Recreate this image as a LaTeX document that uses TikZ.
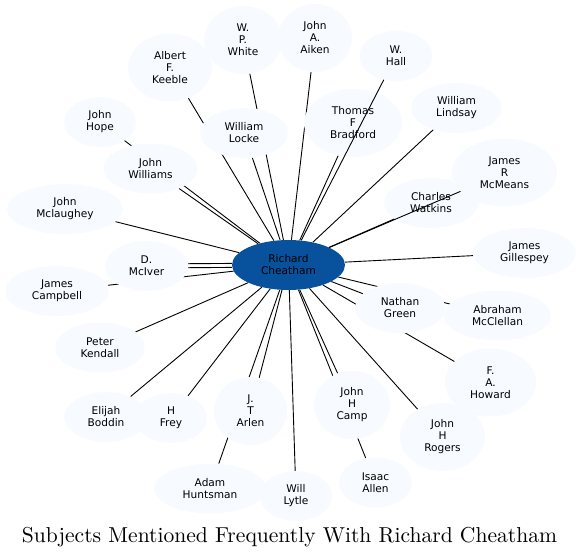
\documentclass[tikz,border=0pt]{standalone}
\usepackage{fontspec}
\newfontfamily\nodefont{DejaVu Sans}
\usetikzlibrary{shapes.geometric}
\pgfdeclarelayer{background}
\pgfsetlayers{background,main}
\definecolor{leaf}{HTML}{F7FBFF}
\definecolor{hub}{HTML}{08519C}
\begin{document}
\begin{tikzpicture}[x=1pt,y=-1pt,
  leafnode/.style={ellipse, fill=leaf, inner sep=0pt, align=center,
    font=\nodefont\fontsize{10.6}{12}\selectfont},
  hubnode/.style={leafnode, fill=hub},
  link/.style={draw=black, line width=0.9pt}]
\useasboundingbox (0,0) rectangle (580,557);
\newcommand\leaf[5]{\node[leafnode, minimum width=#3*2pt, minimum height=#4*2pt] (#1) at #2 {#5};}
\node[hubnode, minimum width=113pt, minimum height=50pt] (c) at (288.5,265) {Richard\\Cheatham};
\leaf{white}{(243,40)}{39}{34}{W.\\P.\\White}
\leaf{aiken}{(315,38)}{37}{34}{John\\A.\\Aiken}
\leaf{keeble}{(170,67.5)}{42}{34}{Albert\\F.\\Keeble}
\leaf{hall}{(396,56)}{36.5}{25}{W.\\Hall}
\leaf{hope}{(100,122)}{36}{25}{John\\Hope}
\leaf{locke}{(244,133)}{44}{25}{William\\Locke}
\leaf{bradford}{(353,123)}{49}{34}{Thomas\\F\\Bradford}
\leaf{lindsay}{(456.5,108)}{45.5}{25}{William\\Lindsay}
\leaf{williams}{(150.5,168.5)}{47}{25}{John\\Williams}
\leaf{mcmeans}{(504.5,172.5)}{52.5}{34}{James\\R\\McMeans}
\leaf{watkins}{(431,203)}{47}{25}{Charles\\Watkins}
\leaf{mclaughey}{(65,209)}{58}{25}{John\\Mclaughey}
\leaf{gillespey}{(524.5,253)}{51.5}{25}{James\\Gillespey}
\leaf{mciver}{(146.5,266)}{41.5}{25}{D.\\McIver}
\leaf{campbell}{(57,291)}{52}{25}{James\\Campbell}
\leaf{green}{(400,308)}{45}{25}{Nathan\\Green}
\leaf{mcclellan}{(497.5,315.5)}{53.5}{25}{Abraham\\McClellan}
\leaf{kendall}{(100,347.5)}{45}{25}{Peter\\Kendall}
\leaf{howard}{(490.5,382.5)}{45.5}{34}{F.\\A.\\Howard}
\leaf{camp}{(352,405)}{38}{34}{John\\H\\Camp}
\leaf{arlen}{(250.5,411)}{36.5}{34}{J.\\T\\Arlen}
\leaf{boddin}{(106,417)}{42}{25}{Elijah\\Boddin}
\leaf{frey}{(171,418)}{36}{25}{H\\Frey}
\leaf{rogers}{(442.5,437)}{42.5}{34}{John\\H\\Rogers}
\leaf{huntsman}{(210,488.5)}{56}{25}{Adam\\Huntsman}
\leaf{lytle}{(296,496)}{36}{25}{Will\\Lytle}
\leaf{allen}{(375.5,482.5)}{36.5}{25}{Isaac\\Allen}
\begin{pgfonlayer}{background}
\foreach \t in {white,aiken,keeble,hope,locke,bradford,lindsay,williams,watkins,
  mclaughey,gillespey,campbell,green,mcclellan,kendall,howard,camp,arlen,boddin,
  frey,rogers,huntsman,lytle,allen}
  \draw[link] (c) -- (\t);
\draw[link, transform canvas={yshift=2pt}] (c) -- (mciver);
\draw[link, transform canvas={yshift=-2pt}] (c) -- (mciver);
\end{pgfonlayer}
\draw[link] (c) -- (hall);
\draw[link] (c) -- (mcmeans);
\node[anchor=base] (title) at (289.5,542) {\resizebox{535pt}{!}{Subjects Mentioned Frequently With Richard Cheatham}};
\end{tikzpicture}
\end{document}
